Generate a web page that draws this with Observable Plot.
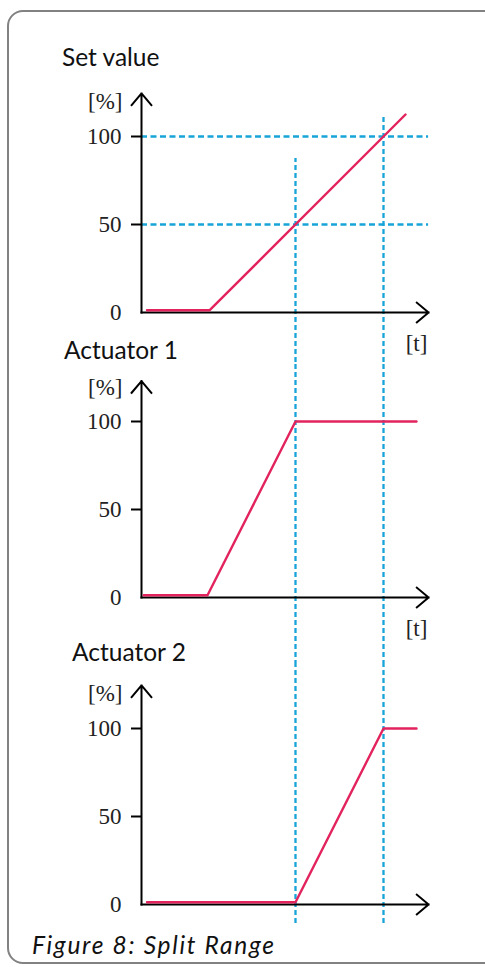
<!DOCTYPE html>
<html>
<head>
<meta charset="utf-8">
<script src="https://cdn.jsdelivr.net/npm/d3@7"></script>
<script src="https://cdn.jsdelivr.net/npm/@observablehq/plot@0.6"></script>
<style>
  html, body { margin: 0; padding: 0; background: #fff; overflow: hidden; }
  #wrap { position: relative; width: 485px; height: 967px; overflow: hidden; background: #fff; }
  .box { position: absolute; left: 7px; top: 10px; width: 540px; height: 954px; box-sizing: border-box;
         border: 2px solid #828282; border-radius: 16px; }
  .title { position: absolute; font-family: Lato, "Open Sans", sans-serif; font-size: 24.5px; line-height: 24.5px;
           color: #111; white-space: nowrap; }
  .caption { font-style: italic; letter-spacing: 1.7px; }
</style>
</head>
<body>
<div id="wrap"><div class="box"></div></div>
<script>
// ---------------- data ----------------
const titles = ["Set value", "Actuator 1", "Actuator 2"];
const caption = "Figure 8: Split Range";
const unitY = "[%]";
const unitX = "[t]";

// set value (t in grid units, value in %)
const tSet = [0.25, 3.1, 12];
const vSet = [1.3, 1.3, 112.5];
// actuator 1
const tAct1 = [0.1, 3, 7, 12.5];
const vAct1 = [1.3, 1.3, 100, 100];
// actuator 2
const tAct2 = [0.25, 7, 11, 12.5];
const vAct2 = [1.3, 1.3, 100, 100];

// split points (vertical dashed guides) and where they start in the top panel
const splitT = [7, 11];
const splitStartV = [87.5, 112.5];
// horizontal reference levels in the top panel
const setLevels = [50, 100];
// y tick labels
const tickValues = [50, 100];
const zeroTick = [0];
// axis extents
const axisEndT = 13.05;
const axisTopV = [124.5, 123, 124.5];

// ---------------- styling / layout ----------------
const RED = "#e2235d";
const BLUE = "#18a4d8";
const K = 1.76;            // px per percent
const PXT = 22;            // px per t unit
const LEFT = 141;
const XMAX = 15;
const wrap = document.getElementById("wrap");

const panelsLayout = [
  {top: 75,  bottom: 362, zero: 312, titleLeft: 62, titleBase: 67,  unitX: true},
  {top: 362, bottom: 665, zero: 597, titleLeft: 64, titleBase: 360, unitX: true},
  {top: 665, bottom: 930, zero: 904, titleLeft: 72, titleBase: 662, unitX: false}
];
const series = [
  tSet.map((t, i) => ({t, v: vSet[i]})),
  tAct1.map((t, i) => ({t, v: vAct1[i]})),
  tAct2.map((t, i) => ({t, v: vAct2[i]}))
];

function addText(txt, left, base, cls) {
  const d = document.createElement("div");
  d.className = "title" + (cls ? " " + cls : "");
  d.textContent = txt;
  d.style.left = left + "px";
  d.style.top = (base - 21.7) + "px";
  wrap.appendChild(d);
}

panelsLayout.forEach((p, idx) => {
  const domain = [(p.zero - p.bottom) / K, (p.zero - p.top) / K];
  const marks = [];
  const dashV = {stroke: BLUE, strokeWidth: 2.3, strokeDasharray: "5,3"};
  if (idx === 0) {
    marks.push(Plot.ruleX(splitT, {x: d => d, y1: domain[0], y2: (d, i) => splitStartV[i], ...dashV}));
    marks.push(Plot.ruleY(setLevels, {y: d => d, x1: 0, x2: axisEndT,
      stroke: BLUE, strokeWidth: 2.3, strokeDasharray: "6,3.5"}));
  } else if (idx === 1) {
    marks.push(Plot.ruleX(splitT, {x: d => d, y1: domain[0], y2: domain[1], ...dashV}));
  } else {
    marks.push(Plot.ruleX(splitT, {x: d => d, y1: -10.8, y2: domain[1], ...dashV}));
  }
  // axes with arrows
  marks.push(Plot.arrow([
      {x1: 0, y1: 0, x2: axisEndT, y2: 0},
      {x1: 0, y1: 0, x2: 0, y2: axisTopV[idx]}
    ], {x1: "x1", y1: "y1", x2: "x2", y2: "y2", stroke: "#000", strokeWidth: 2,
        headLength: 11.5, headAngle: 80, strokeLinecap: "square"}));
  // red curve
  marks.push(Plot.line(series[idx], {x: "t", y: "v", stroke: RED, strokeWidth: 2.4}));
  // ticks & labels
  marks.push(Plot.axisY(tickValues, {anchor: "left", tickSize: 10, tickPadding: 10,
    stroke: "#000", strokeWidth: 2, fill: "#222", tickFormat: d => String(d)}));
  marks.push(Plot.axisY(zeroTick, {anchor: "left", tickSize: 0, tickPadding: 20,
    fill: "#222", tickFormat: d => String(d)}));
  marks.push(Plot.text([unitY], {x: 0, y: idx === 1 ? 119 : 120, text: d => d, textAnchor: "end", dx: -19, fill: "#222"}));
  if (p.unitX) {
    marks.push(Plot.text([unitX], {x: 12.5, y: -17.5, text: d => d, textAnchor: "middle", fill: "#222"}));
  }

  const svg = Plot.plot({
    width: 485,
    height: p.bottom - p.top,
    marginLeft: LEFT, marginRight: 485 - LEFT - XMAX * PXT, marginTop: 0, marginBottom: 0,
    x: {domain: [0, XMAX], axis: null},
    y: {domain},
    style: {background: "transparent", overflow: "visible",
            fontFamily: "'Liberation Serif', 'DejaVu Serif', serif", fontSize: "23px"},
    marks
  });
  svg.style.position = "absolute";
  svg.style.left = "0px";
  svg.style.top = p.top + "px";
  wrap.appendChild(svg);
  addText(titles[idx], p.titleLeft, p.titleBase);
});

addText(caption, 32, 955, "caption");
</script>
</body>
</html>
